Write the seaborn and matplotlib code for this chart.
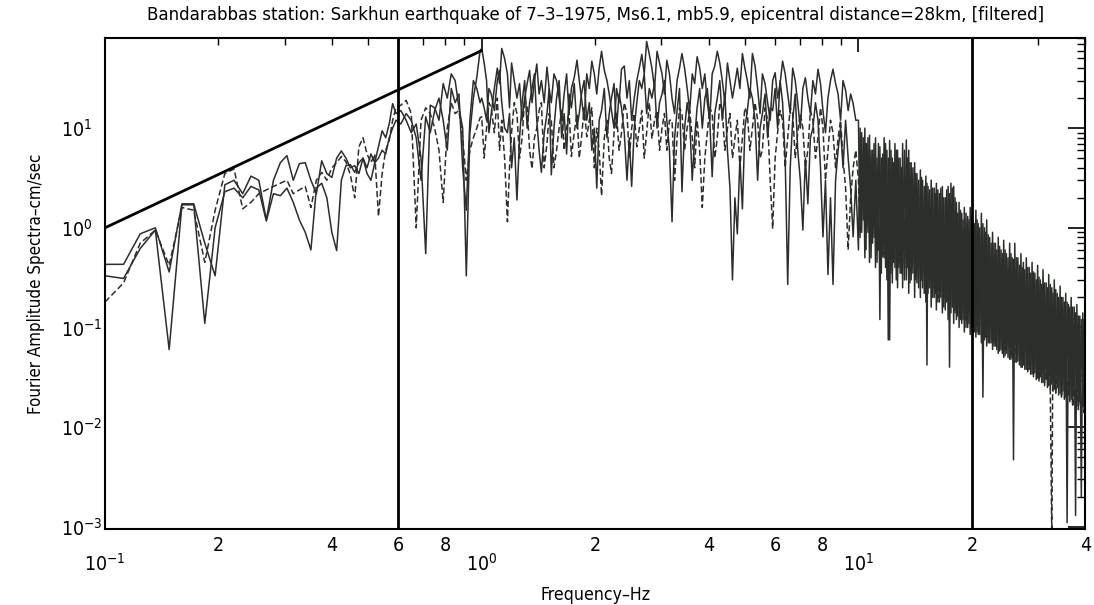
import numpy as np
import pandas as pd
import matplotlib
matplotlib.use("Agg")
import matplotlib.pyplot as plt
import matplotlib.ticker as mticker
import seaborn as sns

sns.set_theme(style="white")
plt.rcParams['font.family'] = ['DejaVu Sans']
plt.rcParams['font.stretch'] = 'condensed'
plt.rcParams['mathtext.default'] = 'regular'
plt.rcParams['text.color'] = 'black'
plt.rcParams['axes.labelcolor'] = 'black'

TITLE = "Bandarabbas station: Sarkhun earthquake of 7\u20133\u20131975, Ms6.1, mb5.9, epicentral distance=28km, [filtered]"
XLABEL = "Frequency\u2013Hz"
YLABEL = "Fourier Amplitude Spectra\u2013cm/sec"

# ---------------- 0.1 - 10 Hz samples ----------------
freq_lo = [
    0.100, 0.112, 0.124, 0.136, 0.148, 0.160, 0.172, 0.184, 0.196, 0.208,
    0.220, 0.232, 0.244, 0.256, 0.268, 0.280, 0.292, 0.304, 0.316, 0.328,
    0.340, 0.352, 0.364, 0.376, 0.388, 0.400, 0.412, 0.424, 0.436, 0.448,
    0.460, 0.472, 0.484, 0.496, 0.508, 0.520, 0.532, 0.544, 0.556, 0.568,
    0.580, 0.592,
    0.61, 0.63, 0.65, 0.67, 0.69, 0.71, 0.73, 0.75, 0.77, 0.79,
    0.81, 0.83, 0.85, 0.87, 0.89, 0.91, 0.93, 0.95, 0.97, 0.99,
    1.00, 1.03, 1.06, 1.10, 1.13, 1.17, 1.20, 1.24, 1.28, 1.32,
    1.36, 1.40, 1.44, 1.49, 1.53, 1.58, 1.63, 1.68, 1.73, 1.79,
    1.84, 1.90, 1.96, 2.02, 2.08, 2.15, 2.21, 2.28, 2.35, 2.43,
    2.50, 2.58, 2.66, 2.74, 2.83, 2.92, 3.01, 3.10, 3.20, 3.30,
    3.40, 3.51, 3.62, 3.73, 3.85, 3.97, 4.09, 4.22, 4.35, 4.49,
    4.63, 4.77, 4.92, 5.07, 5.23, 5.40, 5.56, 5.74, 5.92, 6.10,
    6.29, 6.49, 6.69, 6.90, 7.12, 7.34, 7.57, 7.81, 8.05, 8.30,
    8.56, 8.83, 9.10, 9.39, 9.68,
]
amp1_lo = [
    0.43, 0.43, 0.87, 1.0, 0.36, 1.74, 1.74, 0.7, 0.33, 2.7,
    3.0, 2.2, 3.3, 3.0, 1.2, 3.0, 4.5, 5.3, 3.0, 4.4,
    4.5, 3.0, 2.2, 4.7, 3.5, 3.2, 5.0, 5.9, 5.0, 4.0,
    4.2, 3.5, 5.0, 4.0, 5.5, 4.5, 6.5, 9.4, 8.0, 11.0,
    17.6, 14.0,
    15, 12, 9, 11, 5, 0.55, 17, 16, 12, 28,
    20, 35, 30, 16, 10, 0.33, 8.8, 20, 32, 60,
    63, 30, 14, 40, 63, 35, 45, 20, 12, 28,
    18, 44, 30, 41, 18, 30, 12, 35, 25, 48,
    20, 35, 47, 22, 59, 30, 15, 25, 39, 20,
    12, 30, 55, 74, 40, 59, 35, 48, 20, 30,
    56, 25, 35, 52, 25, 18, 35, 59, 30, 45,
    20, 40, 56, 30, 56, 25, 35, 18, 30, 20,
    47, 22, 40, 18, 25, 20, 30, 39, 15, 20,
    39, 22, 30, 15, 17.7,
]
amp2_lo = [
    0.33, 0.31, 0.62, 0.95, 0.06, 1.7, 1.7, 0.11, 1.0, 2.3,
    2.5, 2.0, 2.6, 2.4, 1.17, 2.2, 2.1, 2.5, 1.8, 1.2,
    0.9, 0.6, 2.5, 2.8, 2.0, 0.9, 0.59, 3.0, 4.2, 4.3,
    3.6, 4.5, 5.0, 3.5, 3.0, 4.5, 5.0, 6.0, 5.5, 8.0,
    10.0, 12.0,
    11, 14, 12, 8, 3, 13, 9, 15, 20, 12,
    6, 25, 18, 22, 4, 1.5, 12, 30, 25, 18,
    20, 12, 22, 30, 18, 9, 4, 1.9, 18, 10,
    25, 12, 3.6, 14, 3.4, 20, 8, 5.5, 16, 10,
    22, 12, 6, 2.5, 15, 8, 20, 10, 16, 3.0,
    2.6, 18, 25, 14, 20, 10, 22, 12, 1.15, 15,
    2.3, 18, 3.0, 16, 10, 25, 3.25, 20, 12, 6,
    0.3, 0.87, 1.55, 15, 20, 3.0, 14, 8, 15, 10,
    18, 0.27, 12, 6, 0.95, 1.74, 10, 12, 0.81, 0.34,
    0.27, 6, 4, 5, 0.81,
]
amp3_lo = [
    0.18, 0.28, 0.70, 0.95, 0.42, 1.6, 1.5, 0.45, 1.5, 3.5,
    3.9, 1.55, 1.8, 2.2, 2.4, 2.6, 2.8, 3.0, 2.2, 2.4,
    2.6, 1.6, 3.0, 3.6, 3.0, 4.0, 4.5, 5.2, 4.6, 3.4,
    2.0, 6.5, 8.0, 5.5, 4.5, 5.5, 1.3, 3.5, 6.0, 7.5,
    12.0, 16.0,
    17, 19, 14, 1.0, 12, 16, 14, 10, 6, 1.8,
    10, 18, 14, 15, 8, 3, 6, 8, 10, 12.7,
    13, 10, 16, 20, 12, 1.15, 9, 14, 8, 16,
    3.9, 10, 18, 7, 12, 6, 15, 10, 5.2, 14,
    8, 8.2, 16, 10, 2.1, 12, 3.5, 14, 9, 14,
    10, 6.5, 15, 9, 7.8, 15, 10, 6, 12, 8,
    14, 10, 8, 12, 1.6, 9, 14, 8, 15, 10,
    5, 12, 8, 14, 10, 12, 6, 12, 0.98, 9,
    12, 8, 14, 9, 10, 6, 12, 8, 10, 6,
    9, 8, 5, 0.6, 4,
]

# ---------------- 1 - 10 Hz in-between samples ----------------
freq_mid = [
    1.015, 1.045, 1.08, 1.115, 1.15, 1.185, 1.22, 1.26, 1.30, 1.34,
    1.38, 1.42, 1.465, 1.51, 1.555, 1.605, 1.655, 1.705, 1.76, 1.815,
    1.87, 1.93, 1.99, 2.05, 2.115, 2.18, 2.245, 2.315, 2.39, 2.465,
    2.54, 2.62, 2.70, 2.785, 2.875, 2.965, 3.055, 3.15, 3.25, 3.35,
    3.455, 3.565, 3.675, 3.79, 3.91, 4.03, 4.155, 4.285, 4.42, 4.56,
    4.70, 4.845, 4.995, 5.15, 5.315, 5.48, 5.65, 5.83, 6.01, 6.195,
    6.39, 6.59, 6.795, 7.01, 7.23, 7.455, 7.69, 7.93, 8.175, 8.43,
    8.695, 8.965, 9.245, 9.535, 9.84,
]
amp1_mid = [
    45, 9, 25, 28, 50, 16, 30, 28, 20, 38,
    30, 22, 18, 25, 35, 20, 22, 14, 32, 30,
    12, 25, 35, 40, 38, 22, 10, 18, 42, 30,
    20, 40, 35, 55, 25, 45, 22, 35, 14, 40,
    40, 15, 28, 40, 35, 12, 42, 45, 18, 30,
    28, 25, 40, 20, 42, 14, 28, 12, 36, 28,
    35, 14, 30, 10, 32, 14, 22, 28, 9, 30,
    28, 12, 24, 22, 12,
]
amp2_mid = [
    16, 25, 15, 38, 10, 14, 8, 8, 30, 18,
    35, 6, 9, 25, 10, 30, 14, 22, 28, 14,
    30, 18, 10, 12, 25, 14, 28, 22, 9, 8,
    10, 30, 35, 25, 28, 18, 30, 6, 8, 25,
    10, 12, 8, 25, 20, 12, 14, 30, 22, 2.5,
    2.0, 5, 10, 25, 12, 10, 22, 16, 25, 30,
    5, 4, 22, 3, 5, 8, 18, 4, 3, 2,
    3, 10, 12, 2.5, 3,
]
amp3_mid = [
    5, 18, 9, 6, 5, 4, 18, 5, 20, 6,
    8, 15, 4, 14, 4, 10, 6, 15, 9, 5,
    16, 12, 4, 6, 8, 5, 9, 6, 18, 5,
    14, 10, 5, 18, 12, 6, 14, 12, 3, 16,
    6, 15, 4, 6, 5, 16, 5, 18, 6, 14,
    8, 4, 16, 6, 18, 5, 16, 3, 5, 15,
    4, 16, 5, 14, 4, 15, 5, 16, 3, 12,
    4, 12, 2.5, 2, 6,
]

# ---------------- 10 - 40 Hz samples ----------------
freq_hi = [
    10.0, 10.2, 10.4, 10.5, 10.7, 10.9, 11.1, 11.3, 11.5, 11.7,
    11.9, 12.1, 12.3, 12.5, 12.7, 12.9, 13.1, 13.4, 13.6, 13.8,
    14.1, 14.3, 14.6, 14.8, 15.1, 15.3, 15.6, 15.9, 16.1, 16.4,
    16.7, 17.0, 17.3, 17.6, 17.9, 18.2, 18.5, 18.8, 19.1, 19.5,
    19.8, 20.1, 20.5, 20.8, 21.2, 21.6, 21.9, 22.3, 22.7, 23.1,
    23.5, 23.9, 24.3, 24.7, 25.2, 25.6, 26.0, 26.5, 27.0, 27.4,
    27.9, 28.4, 28.9, 29.4, 29.9, 30.4, 30.9, 31.5, 32.0, 32.6,
    33.1, 33.7, 34.3, 34.9, 35.5, 36.1, 36.7, 37.4, 38.0, 38.7,
    39.4, 40.0,
]
amp1_hi = [
    12, 9, 10, 7, 8.5, 6, 8, 7, 5, 8,
    6, 7.5, 5, 7, 6, 5, 7, 7.6, 6, 4.5,
    4.5, 3.5, 3.8, 3, 3.3, 2.6, 3.0, 2.5, 2.8, 2.2,
    2.6, 2.0, 2.6, 2.8, 2.6, 1.8, 1.8, 1.4, 1.6, 1.3,
    1.6, 1.2, 1.5, 1.1, 1.4, 1.0, 1.2, 0.8, 0.9, 0.7,
    0.8, 0.6, 0.75, 0.55, 0.7, 0.5, 0.7, 0.5, 0.55, 0.45,
    0.5, 0.4, 0.45, 0.35, 0.42, 0.3, 0.38, 0.28, 0.34, 0.25,
    0.3, 0.22, 0.26, 0.2, 0.22, 0.17, 0.2, 0.16, 0.17, 0.13,
    0.14, 0.11,
]
amp2_hi = [
    0.6, 0.9, 0.5, 1.0, 0.45, 0.7, 0.4, 0.6, 0.35, 0.5,
    0.3, 0.075, 0.28, 0.4, 0.25, 0.35, 0.25, 0.3, 0.22, 0.3,
    0.2, 0.28, 0.2, 0.25, 0.18, 0.22, 0.16, 0.2, 0.15, 0.18,
    0.14, 0.15, 0.12, 0.14, 0.11, 0.12, 0.1, 0.11, 0.09, 0.1,
    0.085, 0.09, 0.08, 0.085, 0.07, 0.075, 0.065, 0.07, 0.06, 0.065,
    0.055, 0.06, 0.05, 0.055, 0.048, 0.05, 0.045, 0.046, 0.04, 0.042,
    0.038, 0.038, 0.034, 0.035, 0.031, 0.032, 0.028, 0.03, 0.026, 0.027,
    0.024, 0.025, 0.022, 0.023, 0.02, 0.021, 0.019, 0.02, 0.017, 0.018,
    0.016, 0.03,
]
amp3_hi = [
    3, 2, 3.5, 1.5, 2.5, 1.8, 2.8, 1.4, 2.2, 1.6,
    2.5, 1.2, 2.0, 1.4, 1.8, 1.0, 2.0, 1.2, 1.5, 0.9,
    1.2, 0.9, 1.0, 0.8, 0.9, 0.6, 0.8, 0.6, 0.7, 0.5,
    0.7, 0.45, 0.6, 0.5, 0.6, 0.4, 0.45, 0.35, 0.4, 0.3,
    0.35, 0.28, 0.3, 0.25, 0.28, 0.2, 0.22, 0.18, 0.2, 0.15,
    0.18, 0.14, 0.15, 0.12, 0.14, 0.11, 0.12, 0.1, 0.11, 0.09,
    0.1, 0.08, 0.09, 0.07, 0.08, 0.06, 0.07, 0.055, 0.06, 0.0008,
    0.05, 0.045, 0.045, 0.04, 0.04, 0.035, 0.035, 0.03, 0.03, 0.028,
    0.027, 0.035,
]

# ---------------- 10 - 40 Hz in-between samples ----------------
freq_hi_mid = [
    10.1, 10.3, 10.45, 10.6, 10.8, 11.0, 11.2, 11.4, 11.6, 11.8,
    12.0, 12.2, 12.4, 12.6, 12.8, 13.0, 13.25, 13.5, 13.7, 13.95,
    14.2, 14.45, 14.7, 14.95, 15.2, 15.45, 15.75, 16.0, 16.25, 16.55,
    16.85, 17.15, 17.45, 17.75, 18.05, 18.35, 18.65, 18.95, 19.3, 19.65,
    19.95, 20.3, 20.65, 21.0, 21.4, 21.75, 22.1, 22.5, 22.9, 23.3,
    23.7, 24.1, 24.5, 24.95, 25.4, 25.8, 26.25, 26.75, 27.2, 27.65,
    28.15, 28.65, 29.15, 29.65, 30.15, 30.65, 31.2, 31.75, 32.3, 32.85,
    33.4, 34.0, 34.6, 35.2, 35.8, 36.4, 37.05, 37.7, 38.35, 39.05,
    39.7,
]
amp1_hi_mid = [
    0.8, 1.2, 0.6, 0.9, 0.5, 0.8, 0.45, 0.12, 0.6, 0.4,
    0.075, 0.35, 0.45, 0.3, 0.4, 0.35, 0.3, 0.4, 0.28, 0.35,
    0.3, 0.25, 0.3, 0.22, 0.042, 0.25, 0.2, 0.22, 0.18, 0.2,
    0.16, 0.18, 0.04, 0.16, 0.14, 0.13, 0.12, 0.12, 0.1, 0.11,
    0.1, 0.09, 0.09, 0.085, 0.02, 0.08, 0.07, 0.07, 0.065, 0.06,
    0.058, 0.055, 0.052, 0.05, 0.048, 0.0047, 0.045, 0.042, 0.04, 0.038,
    0.036, 0.034, 0.032, 0.03, 0.029, 0.028, 0.026, 0.025, 0.024, 0.023,
    0.022, 0.021, 0.02, 0.019, 0.0011, 0.018, 0.017, 0.0013, 0.016, 0.002,
    0.015,
]
amp2_hi_mid = [
    10, 8, 7, 8, 6, 7, 5, 6.5, 5.5, 7,
    5, 6, 4.5, 6, 5, 4, 6, 5, 4.5, 4,
    3.5, 3.0, 3.2, 2.6, 2.8, 2.4, 2.5, 2.2, 2.4, 2.5,
    2.0, 2.4, 2.2, 2.5, 2.0, 1.4, 1.5, 1.2, 1.4, 1.2,
    1.3, 1.1, 1.2, 1.0, 1.1, 0.9, 0.85, 0.7, 0.7, 0.6,
    0.65, 0.55, 0.6, 0.5, 0.55, 0.48, 0.5, 0.42, 0.4, 0.38,
    0.4, 0.35, 0.36, 0.3, 0.32, 0.27, 0.28, 0.25, 0.27, 0.22,
    0.24, 0.2, 0.2, 0.18, 0.18, 0.16, 0.16, 0.14, 0.13, 0.12,
    0.12,
]
amp3_hi_mid = [
    0.9, 4, 0.8, 3, 0.7, 3.5, 0.6, 3, 0.5, 3.5,
    0.6, 2.5, 0.5, 2.8, 0.45, 2.5, 0.4, 2.2, 0.35, 1.8,
    0.35, 1.6, 0.3, 1.4, 0.25, 1.3, 0.25, 1.2, 0.2, 1.1,
    0.2, 1.0, 0.18, 1.0, 0.15, 0.8, 0.14, 0.7, 0.12, 0.7,
    0.1, 0.6, 0.1, 0.55, 0.09, 0.45, 0.08, 0.4, 0.07, 0.35,
    0.065, 0.3, 0.06, 0.28, 0.05, 0.25, 0.045, 0.22, 0.04, 0.2,
    0.038, 0.18, 0.035, 0.16, 0.03, 0.14, 0.028, 0.12, 0.025, 0.11,
    0.022, 0.1, 0.02, 0.08, 0.018, 0.07, 0.016, 0.06, 0.015, 0.05,
    0.014,
]

# guide line (slope) and vertical frequency markers
guide_f = [0.1, 1.0]
guide_a = [1.0, 60.0]
marker_freqs = [0.6, 20.0]

XLIM = (0.1, 40.0)
YLIM = (9.5e-4, 80.0)

freq_all = freq_lo + freq_mid + freq_hi + freq_hi_mid
df = pd.DataFrame({
    "freq": freq_all,
    "c1": amp1_lo + amp1_mid + amp1_hi + amp1_hi_mid,
    "c2": amp2_lo + amp2_mid + amp2_hi + amp2_hi_mid,
    "c3": amp3_lo + amp3_mid + amp3_hi + amp3_hi_mid,
})

ink = "#2b2e2b"
LW = 1.1

fig = plt.figure(figsize=(10.94, 6.05), dpi=100)
ax = fig.add_axes([0.096, 0.1256, 0.896, 0.8114])

sns.lineplot(data=df, x="freq", y="c2", ax=ax, color=ink, lw=LW, estimator=None)
sns.lineplot(data=df, x="freq", y="c3", ax=ax, color=ink, lw=LW, estimator=None,
             linestyle=(0, (4, 2)))
sns.lineplot(data=df, x="freq", y="c1", ax=ax, color=ink, lw=LW, estimator=None)
sns.lineplot(x=guide_f, y=guide_a, ax=ax, color="black", lw=2.0)
for fm in marker_freqs:
    ax.axvline(fm, color="black", lw=2.0)

ax.set_xscale("log")
ax.set_yscale("log")
ax.set_xlim(*XLIM)
ax.set_ylim(*YLIM)

ax.xaxis.set_major_locator(mticker.FixedLocator([0.1, 1.0, 10.0]))
ax.xaxis.set_major_formatter(mticker.FixedFormatter(["$10^{-1}$", "$10^{0}$", "$10^{1}$"]))
ax.xaxis.set_minor_locator(mticker.LogLocator(base=10, subs=np.arange(2, 10), numticks=20))

def minor_fmt(v, pos):
    m = v / 10 ** np.floor(np.log10(v) + 1e-9)
    mi = int(round(m))
    return str(mi) if mi in (2, 4, 6, 8) and abs(m - mi) < 1e-6 else ""

ax.xaxis.set_minor_formatter(mticker.FuncFormatter(minor_fmt))

ax.yaxis.set_major_locator(mticker.FixedLocator([1e-3, 1e-2, 1e-1, 1, 10]))
ax.yaxis.set_major_formatter(mticker.FixedFormatter(["$10^{-3}$", "$10^{-2}$", "$10^{-1}$", "$10^{0}$", "$10^{1}$"]))
ax.yaxis.set_minor_locator(mticker.LogLocator(base=10, subs=np.arange(2, 10), numticks=20))
ax.yaxis.set_minor_formatter(mticker.NullFormatter())

ax.tick_params(which="both", direction="in", top=True, right=True, colors="black",
               labelsize=14)
ax.tick_params(axis="x", which="major", length=10, width=1.2, pad=17)
ax.tick_params(axis="x", which="minor", length=5, width=1.0, pad=5)
ax.tick_params(axis="y", which="major", length=12, width=1.2, pad=32)
ax.tick_params(axis="y", which="minor", length=6, width=1.0)
for lab in ax.get_yticklabels():
    lab.set_horizontalalignment("left")

for s in ax.spines.values():
    s.set_color("black")
    s.set_linewidth(1.5)

ax.set_xlabel(XLABEL, fontsize=12.7, labelpad=8, color="black")
ax.set_ylabel(YLABEL, fontsize=12.2, labelpad=11, color="black")
fig.text(0.544, 0.975, TITLE, ha="center", va="center", fontsize=13.3, color="black")

fig.savefig("out.png", dpi=100)
